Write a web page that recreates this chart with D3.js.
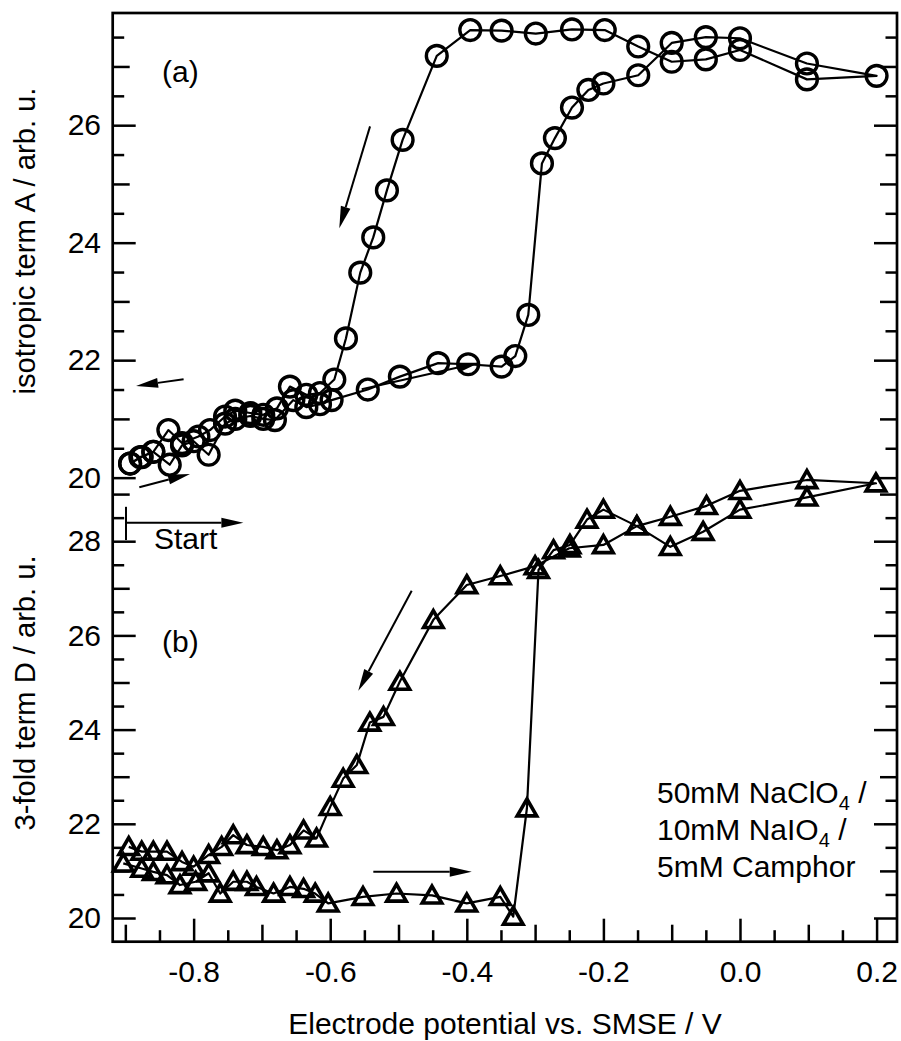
<!DOCTYPE html>
<html><head><meta charset="utf-8">
<script src="https://cdn.jsdelivr.net/npm/d3@7"></script>
<style>html,body{margin:0;padding:0;background:#fff;}svg{display:block;}</style>
</head><body>
<script>
// ---------- DATA ----------
// Panel (a): isotropic term A, loop (forward sweep then backward sweep)
const potA = [-0.893,-0.876,-0.859,-0.835,-0.817,-0.800,-0.778,-0.754,-0.739,-0.717,-0.698,-0.681,-0.654,-0.635,-0.615,-0.598,
  -0.545,-0.498,-0.442,-0.398,-0.349,-0.329,-0.310,-0.290,-0.271,-0.246,-0.222,-0.200,-0.149,-0.100,-0.050,0.0,0.098,0.200,
  0.098,0.0,-0.050,-0.100,-0.149,-0.198,-0.246,-0.299,-0.349,-0.395,-0.444,-0.494,-0.517,-0.537,-0.556,-0.577,-0.594,
  -0.615,-0.635,-0.659,-0.678,-0.698,-0.717,-0.739,-0.754,-0.776,-0.793,-0.817,-0.837,-0.859,-0.878,-0.893];
const termA = [20.24,20.35,20.44,20.22,20.55,20.62,20.39,20.92,21.00,21.05,21.00,20.98,21.32,21.20,21.25,21.32,
  21.50,21.72,21.95,21.93,21.89,22.07,22.77,25.35,25.78,26.30,26.60,26.71,26.85,27.40,27.50,27.48,27.05,26.84,
  26.78,27.28,27.12,27.08,27.34,27.62,27.63,27.56,27.61,27.62,27.18,25.75,24.89,24.09,23.49,22.37,21.67,
  21.44,21.41,21.55,21.18,21.07,21.10,21.14,21.04,20.81,20.70,20.59,20.81,20.44,20.35,20.24];

// Panel (b): 3-fold term D, loop (forward sweep then backward sweep)
const potD = [-0.903,-0.876,-0.859,-0.839,-0.820,-0.797,-0.778,-0.761,-0.742,-0.722,-0.708,-0.683,-0.659,-0.639,-0.622,-0.603,
  -0.552,-0.503,-0.451,-0.400,-0.351,-0.332,-0.312,-0.295,-0.273,-0.249,-0.224,-0.200,-0.151,-0.102,-0.054,0.0,0.098,0.199,
  0.098,0.0,-0.049,-0.102,-0.151,-0.200,-0.250,-0.300,-0.351,-0.400,-0.449,-0.498,-0.522,-0.542,-0.561,-0.581,-0.600,
  -0.620,-0.639,-0.659,-0.678,-0.698,-0.722,-0.742,-0.759,-0.778,-0.800,-0.817,-0.839,-0.859,-0.876,-0.895];
const termD = [21.16,21.05,20.98,20.91,20.70,20.77,20.95,20.52,20.77,20.77,20.66,20.52,20.66,20.62,20.52,20.31,
  20.45,20.52,20.48,20.31,20.45,20.03,22.33,27.39,27.81,27.92,28.46,28.67,28.32,27.88,28.20,28.67,28.93,29.23,
  29.30,29.07,28.75,28.52,28.32,27.92,27.85,27.47,27.26,27.07,26.33,25.02,24.27,24.15,23.25,22.96,22.36,
  21.69,21.86,21.55,21.44,21.51,21.55,21.76,21.51,21.34,21.09,21.19,21.41,21.41,21.41,21.51];

// Tick values
const xTicksMajor = [-0.8,-0.6,-0.4,-0.2,0.0,0.2];
const xTicksMid   = [-0.9,-0.7,-0.5,-0.3,-0.1,0.1];
const xTicksMinor = [-0.85,-0.75,-0.65,-0.55,-0.45,-0.35,-0.25,-0.15,-0.05,0.05,0.15];
const aTicksMajor = [20,22,24,26];
const aTicksMid   = [21,23,25,27];
const aTicksMinor = [20.5,21.5,22.5,23.5,24.5,25.5,26.5,27.5];
const dTicksMajor = [20,22,24,26,28];
const dTicksMid   = [21,23,25,27,29];
const dTicksMinor = [20.5,21.5,22.5,23.5,24.5,25.5,26.5,27.5,28.5];

// Annotation arrows in data units: [x1, y1, x2, y2] (tip at x2,y2)
const arrowsA = [[-0.5417,25.98,-0.5867,24.245],[-0.8147,21.675,-0.8843,21.561],[-0.8795,19.837,-0.8053,20.063],[-0.5539,21.505,-0.3817,21.957]];
const arrowsD = [[-0.4807,26.949,-0.5589,24.826],[-0.5369,20.983,-0.3928,20.983],[-0.899,28.393,-0.7272,28.393]];
const startBar = [-0.899, 28.025, 28.73];

const legendLines = [["50mM NaClO","4"," /"],["10mM NaIO","4"," /"],["5mM Camphor","",""]];

// ---------- LAYOUT ----------
const W = 901, H = 1041;
const L = 112.7, R = 897, T = 13, B = 941.7;
const FONT = "'Liberation Sans', Arial, sans-serif";
const FS = 30;

const svg = d3.select("body").append("svg").attr("width", W).attr("height", H);
svg.append("rect").attr("width", W).attr("height", H).attr("fill", "#fff");

const x = d3.scaleLinear().domain([-0.9185, 0.2299]).range([L, R]);
const yA = d3.scaleLinear().domain([12.10, 27.91]).range([B, T]);
const yD = d3.scaleLinear().domain([19.497, 39.214]).range([B, T]);

function fmtX(d){ return Math.abs(d) < 1e-9 ? "0.0" : d.toFixed(1); }

function addAxis(gen, transform, vals, size, labels, pad){
  const g = svg.append("g").attr("transform", transform)
    .call(gen.tickValues(vals).tickSize(size).tickPadding(pad||3).tickFormat(labels || (()=>"")));
  g.select(".domain").remove();
  g.selectAll(".tick line").attr("stroke", "#000").attr("stroke-width", 2.5);
  g.selectAll("text").attr("font-family", FONT).attr("font-size", FS).attr("fill", "#000");
  return g;
}
const LONG = -23, MID = -17, SHORT = -11.5;
addAxis(d3.axisBottom(x), `translate(0,${B})`, xTicksMajor, LONG, fmtX, 19.2);
addAxis(d3.axisBottom(x), `translate(0,${B})`, xTicksMid, MID);
addAxis(d3.axisBottom(x), `translate(0,${B})`, xTicksMinor, SHORT);
addAxis(d3.axisLeft(yA), `translate(${L},0)`, aTicksMajor, LONG, d=>String(d), 11.7);
addAxis(d3.axisLeft(yA), `translate(${L},0)`, aTicksMid, MID);
addAxis(d3.axisLeft(yA), `translate(${L},0)`, aTicksMinor, SHORT);
addAxis(d3.axisRight(yA), `translate(${R},0)`, aTicksMajor, LONG);
addAxis(d3.axisRight(yA), `translate(${R},0)`, aTicksMid, MID);
addAxis(d3.axisRight(yA), `translate(${R},0)`, aTicksMinor, SHORT);
addAxis(d3.axisLeft(yD), `translate(${L},0)`, dTicksMajor, LONG, d=>String(d), 11.7);
addAxis(d3.axisLeft(yD), `translate(${L},0)`, dTicksMid, MID);
addAxis(d3.axisLeft(yD), `translate(${L},0)`, dTicksMinor, SHORT);
addAxis(d3.axisRight(yD), `translate(${R},0)`, dTicksMajor, LONG);
addAxis(d3.axisRight(yD), `translate(${R},0)`, dTicksMid, MID);
addAxis(d3.axisRight(yD), `translate(${R},0)`, dTicksMinor, SHORT);

svg.append("rect").attr("x", L).attr("y", T).attr("width", R-L).attr("height", B-T)
  .attr("fill", "none").attr("stroke", "#000").attr("stroke-width", 2.7);

// ---------- DATA MARKS ----------
const ptsA = potA.map((p,i)=>[p, termA[i]]);
const ptsD = potD.map((p,i)=>[p, termD[i]]);

svg.append("path").datum(ptsA)
  .attr("d", d3.line().x(d=>x(d[0])).y(d=>yA(d[1])))
  .attr("fill","none").attr("stroke","#000").attr("stroke-width",2.2).attr("stroke-linejoin","round");
svg.append("g").selectAll("circle").data(ptsA).join("circle")
  .attr("cx", d=>x(d[0])).attr("cy", d=>yA(d[1])).attr("r", 10.4)
  .attr("fill","none").attr("stroke","#000").attr("stroke-width",3.4);

svg.append("path").datum(ptsD)
  .attr("d", d3.line().x(d=>x(d[0])).y(d=>yD(d[1])))
  .attr("fill","none").attr("stroke","#000").attr("stroke-width",2.2).attr("stroke-linejoin","round");
const tri = d3.symbol().type(d3.symbolTriangle).size(165);
svg.append("g").selectAll("path").data(ptsD).join("path")
  .attr("d", tri).attr("transform", d=>`translate(${x(d[0])},${yD(d[1])+2})`)
  .attr("fill","none").attr("stroke","#000").attr("stroke-width",3.6).attr("stroke-linejoin","miter");

// ---------- ANNOTATIONS ----------
function arrow(x1,y1,x2,y2){
  const ang = Math.atan2(y2-y1, x2-x1), len = 22, hw = 5;
  const bx = x2 - len*Math.cos(ang), by = y2 - len*Math.sin(ang);
  svg.append("line").attr("x1",x1).attr("y1",y1).attr("x2",bx).attr("y2",by)
    .attr("stroke","#000").attr("stroke-width",2);
  const px = -Math.sin(ang)*hw, py = Math.cos(ang)*hw;
  svg.append("path").attr("d", `M${x2},${y2}L${bx+px},${by+py}L${bx-px},${by-py}Z`).attr("fill","#000");
}
arrowsA.forEach(a=>arrow(x(a[0]),yA(a[1]),x(a[2]),yA(a[3])));
arrowsD.forEach(a=>arrow(x(a[0]),yD(a[1]),x(a[2]),yD(a[3])));
svg.append("line").attr("x1",x(startBar[0])).attr("x2",x(startBar[0]))
  .attr("y1",yD(startBar[1])).attr("y2",yD(startBar[2])).attr("stroke","#000").attr("stroke-width",2);

function txt(s, xx, yy, anchor){
  return svg.append("text").attr("x",xx).attr("y",yy).attr("font-family",FONT).attr("font-size",FS)
    .attr("text-anchor",anchor||"start").attr("fill","#000").text(s);
}
txt("(a)", 162, 82);
txt("(b)", 162, 652);
txt("Start", 154, 549);

legendLines.forEach((ln,i)=>{
  const t = svg.append("text").attr("x",657).attr("y",803 + i*37).attr("font-family",FONT).attr("font-size",FS).attr("fill","#000");
  t.append("tspan").text(ln[0]);
  if (ln[1]) {
    t.append("tspan").attr("dy",7).attr("font-size",20).text(ln[1]);
    t.append("tspan").attr("dy",-7).text(ln[2]);
  }
});

svg.append("text").attr("transform","translate(35,241) rotate(-90)").attr("text-anchor","middle")
  .attr("font-family",FONT).attr("font-size",FS).attr("textLength",307).attr("lengthAdjust","spacingAndGlyphs")
  .text("isotropic term A / arb. u.");
svg.append("text").attr("transform","translate(35,693) rotate(-90)").attr("text-anchor","middle")
  .attr("font-family",FONT).attr("font-size",FS).attr("textLength",275).attr("lengthAdjust","spacingAndGlyphs")
  .text("3-fold term D / arb. u.");
svg.append("text").attr("x",505).attr("y",1034).attr("text-anchor","middle")
  .attr("font-family",FONT).attr("font-size",FS).text("Electrode potential vs. SMSE / V");
</script>
</body></html>
